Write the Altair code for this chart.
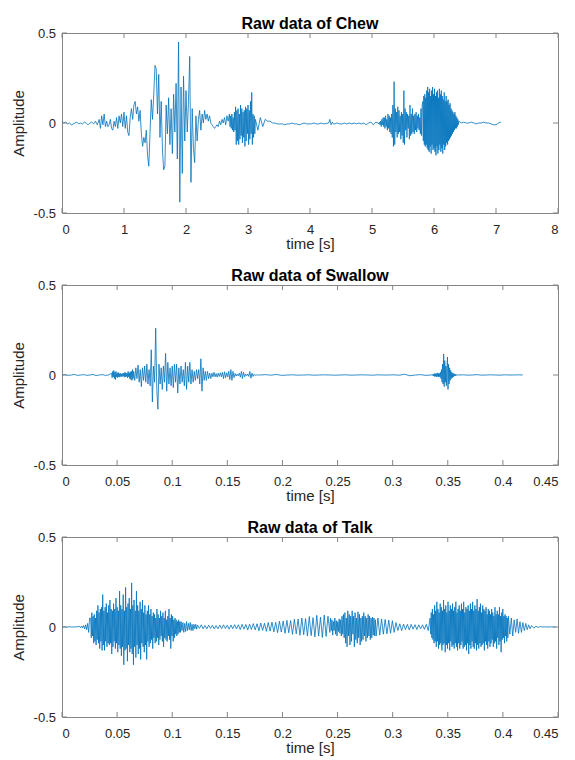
import numpy as np
import pandas as pd
import altair as alt

# ---------------- data ----------------
# Each segment: (start time, end time, amplitudes sampled evenly in between)

CHEW_A = [0.01, 0.0, 0.005, -0.005, 0.0, -0.01, -0.005, 0.0, 0.005, -0.005, 0.0, -0.005,
          0.005, 0.0, -0.01, 0.0, 0.005, -0.005, 0.01, -0.01]
CHEW_B = [0.02, -0.03, 0.04, -0.01, 0.05, -0.02, 0.01, -0.02, -0.01, 0.02, -0.03, -0.04,
          0.01, -0.02, 0.03, -0.03, 0.04, 0.0, 0.05, -0.02]
CHEW_C = [0.06, -0.03, 0.04, -0.05, -0.07, 0.03, 0.08, 0.02, 0.10, 0.12, 0.05, 0.09, 0.01, 0.07,
          -0.06, -0.13, -0.08, -0.11, -0.04, -0.18, -0.24, -0.05, 0.13, 0.02, 0.16, 0.32, 0.30,
          0.05, 0.27, -0.08, 0.12, -0.15, -0.26, -0.24, 0.10, -0.06, 0.14, -0.12, 0.08, -0.17,
          0.16, -0.05, 0.22, -0.20, 0.45, -0.44, 0.20, -0.28, 0.26, -0.10, 0.18, -0.05, 0.12,
          0.37, -0.33, 0.08, -0.14, -0.22, 0.04, -0.10, 0.02, 0.07, -0.04, 0.05, 0.00, 0.07,
          0.02, 0.05, 0.01, 0.04, 0.00, -0.01, -0.02, -0.03, -0.02, -0.01, -0.02, 0.01, -0.01,
          0.02, 0.00, 0.03, -0.01, 0.04, 0.01]
CHEW_D = [0.05, -0.02, 0.04, -0.03, 0.05, -0.04, 0.03, -0.05, 0.06, -0.04, 0.09, -0.12, 0.07,
          -0.10, 0.08, -0.12, 0.05, -0.09, 0.10, -0.07, 0.08, -0.11, 0.06, -0.08, 0.07, -0.13,
          0.09, -0.10, 0.08, -0.06, 0.10, -0.12, 0.07, -0.09, 0.12, -0.06, 0.17, -0.12, 0.05,
          -0.08, 0.04, -0.06]
CHEW_E = [0.02, -0.04, 0.03, -0.02, 0.02, 0.01, 0.01, 0.0, 0.0, -0.005, -0.005, -0.005, -0.01,
          -0.005, -0.005, 0.0, -0.005, -0.005, -0.01, -0.005, 0.0, -0.005, -0.005, -0.005, 0.0,
          -0.005, -0.005, 0.0, -0.005, -0.003]
CHEW_F = [0.0, 0.02, -0.01, 0.005, -0.005]
CHEW_G = [-0.005, 0.0, -0.005, -0.005, 0.0, -0.005, 0.0, -0.005, 0.0, -0.005, 0.0, -0.005, 0.0,
          -0.01, 0.0, 0.005, -0.01, 0.005]
CHEW_H = [0.0, -0.005, 0.005, -0.01, 0.01, -0.02, 0.02, -0.01, 0.03,
          -0.02, 0.03, -0.03, 0.04, -0.02, 0.02, -0.04, 0.05, -0.03, 0.04, -0.05, 0.03,
          -0.06, 0.05, -0.08, 0.10, -0.13, 0.23, -0.12, 0.08, -0.05, 0.06,
          -0.08, 0.09, -0.06, 0.07, -0.05, 0.04, -0.09, 0.06, -0.07, 0.05,
          -0.11, 0.18, -0.12, 0.08, -0.04, 0.06, -0.08, 0.05, -0.03, 0.04,
          -0.09, 0.10, -0.07, 0.05, -0.06, 0.08, -0.05, 0.04, -0.06, 0.05,
          -0.04, 0.06, -0.05, 0.04, -0.03, 0.05, -0.04, 0.03, -0.06, 0.08, -0.07, 0.10]
CHEW_I = [0.12, -0.10, 0.15, -0.12, 0.16, -0.13, 0.14, -0.12, 0.18, -0.14,
          0.20, -0.15, 0.17, -0.16, 0.19, -0.13, 0.15, -0.17, 0.18, -0.12, 0.20, -0.15, 0.16, -0.14,
          0.19, -0.16, 0.15, -0.18, 0.17, -0.13, 0.18, -0.17, 0.14, -0.15, 0.19, -0.12, 0.16, -0.16,
          0.18, -0.14, 0.15, -0.17, 0.13, -0.12, 0.17, -0.15, 0.12, -0.13, 0.15, -0.11, 0.12, -0.12,
          0.13, -0.10, 0.10, -0.09, 0.11, -0.08, 0.08, -0.07, 0.07, -0.06, 0.06, -0.05,
          0.05, -0.04, 0.06, -0.03, 0.04, -0.03, 0.03, -0.02, 0.02, -0.01]
CHEW_J = [0.01, 0.0, 0.005, 0.0, 0.0, 0.005, 0.0, -0.005, 0.0, 0.0, 0.005, 0.0, 0.0, -0.005,
          -0.01, -0.01, 0.0, 0.005]
CHEW_SEGMENTS = [(0.00, 0.60, CHEW_A), (0.60, 1.00, CHEW_B), (1.00, 2.70, CHEW_C),
                 (2.70, 3.12, CHEW_D), (3.12, 4.30, CHEW_E), (4.30, 4.40, CHEW_F),
                 (4.40, 5.10, CHEW_G), (5.10, 5.82, CHEW_H), (5.82, 6.40, CHEW_I),
                 (6.40, 7.08, CHEW_J)]

SWAL_A = [0.0, 0.002, -0.002, 0.0, 0.003, -0.002, 0.0, 0.002, -0.002, 0.0, 0.003, -0.003, 0.0,
          0.002, -0.002, 0.0]
SWAL_B = [0.01, -0.015, 0.02, -0.01, 0.025, -0.02, 0.015, -0.025, 0.02, -0.01, 0.01, -0.015,
          0.015, -0.01, 0.008, -0.012, 0.01, -0.008, 0.006, -0.01, 0.008, -0.005, 0.01, -0.012,
          0.015, -0.01, 0.012, -0.008, 0.01, -0.015, 0.02, -0.01, 0.012, -0.02, 0.018, -0.025,
          0.02, -0.03, 0.03, -0.02]
SWAL_C = [0.02, -0.03, 0.04, -0.02, 0.055, -0.04, 0.03, -0.065, 0.04, -0.03,
          0.05, -0.04, 0.06, -0.05, 0.03, -0.06, 0.14, -0.15, 0.05, -0.04,
          0.26, -0.08, -0.19, 0.06, -0.05, 0.04, -0.08, 0.05, -0.04, 0.12,
          -0.09, 0.07, -0.05, 0.04, -0.06, 0.05, -0.07, 0.06, -0.04, 0.06,
          -0.10, 0.04, -0.05, 0.05, -0.04, 0.03, -0.06, 0.07, -0.08, 0.05,
          -0.04, 0.07, -0.05, 0.03, -0.04, 0.02, -0.03, 0.03, -0.02, 0.03,
          -0.05, 0.09, -0.09, 0.04, -0.03, 0.02, -0.03, 0.02, -0.02, 0.01, -0.02]
SWAL_D = [0.01, -0.01, 0.015, -0.01, 0.008, -0.012, 0.01, -0.008, 0.012, -0.01,
          0.015, -0.02, 0.018, -0.015, 0.012, -0.01, 0.02, -0.025, 0.03, -0.03,
          0.02, -0.015, 0.008, -0.006, 0.005, -0.005, 0.01, -0.012, 0.02, -0.02,
          0.015, -0.01, 0.005, -0.004, 0.006, -0.008, 0.02, -0.018, 0.01, -0.008,
          0.004, -0.003, 0.002, -0.002, 0.001, 0.0]
SWAL_E = [0.0, 0.002, -0.001, 0.003, -0.002, 0.0, 0.001, -0.001, 0.0, 0.001, -0.001, 0.0, 0.001,
          0.0, -0.001, 0.0, 0.001, -0.001, 0.0, 0.001, 0.0, -0.001, 0.001, 0.0, 0.0, 0.001,
          -0.001, 0.004, -0.004, 0.0, 0.002, -0.002]
SWAL_F = [0.0, 0.002, -0.002, 0.004, -0.005, 0.006, -0.008, 0.01, -0.008, 0.006,
          -0.01, 0.012, -0.008, 0.01, -0.012, 0.008, -0.01, 0.015, -0.02, 0.03,
          -0.04, 0.06, -0.05, 0.117, -0.065, 0.08, -0.04, 0.05, -0.06, 0.04,
          0.10, -0.08, 0.06, -0.05, 0.04, -0.03, 0.025, -0.02, 0.015, -0.015,
          0.01, -0.01, 0.008, -0.006, 0.005, -0.004, 0.003, -0.002, 0.002, -0.001, 0.0]
SWAL_G = [0.0, 0.001, -0.001, 0.0, 0.002, -0.001, 0.0, 0.001, 0.0, -0.001, 0.001, 0.0, 0.0,
          0.001, 0.0]
SWAL_SEGMENTS = [(0.0, 0.045, SWAL_A), (0.045, 0.065, SWAL_B), (0.065, 0.136, SWAL_C),
                 (0.136, 0.18, SWAL_D), (0.18, 0.335, SWAL_E), (0.335, 0.36, SWAL_F),
                 (0.36, 0.418, SWAL_G)]

TALK_A = [0.0, 0.001, -0.001, 0.0, 0.002, -0.001, 0.001, 0.0, 0.002]
TALK_B = [0.003, -0.004, 0.006, -0.005, 0.008, -0.01, 0.012, -0.015, 0.02, -0.03, 0.05]
TALK_C = [0.05, -0.06, 0.08, -0.05, 0.06, -0.09, 0.07, -0.08, 0.05, -0.10,
          0.09, -0.07, 0.12, -0.09, 0.08, -0.12, 0.10, -0.08, 0.11, -0.13,
          0.18, -0.10, 0.09, -0.13, 0.11, -0.08, 0.13, -0.11, 0.08, -0.09,
          0.12, -0.10, 0.15, -0.09, 0.10, -0.15, 0.09, -0.11, 0.13, -0.08,
          0.10, -0.12, 0.16, -0.09, 0.11, -0.14, 0.09, -0.10, 0.20, -0.12,
          0.12, -0.16, 0.10, -0.11, 0.18, -0.21, 0.09, -0.13, 0.22, -0.12,
          0.11, -0.19, 0.13, -0.10, 0.16, -0.14, 0.10, -0.12, 0.245, -0.15,
          0.12, -0.21, 0.15, -0.11, 0.09, -0.17, 0.20, -0.10, 0.12, -0.15,
          0.09, -0.12, 0.14, -0.18, 0.10, -0.09, 0.15, -0.11, 0.08, -0.14,
          0.12, -0.10, 0.07, -0.18, 0.09, -0.08, 0.12, -0.11, 0.07, -0.09,
          0.10, -0.07, 0.06, -0.12, 0.08, -0.06, 0.07, -0.09, 0.05, -0.08,
          0.10, -0.06, 0.07, -0.10, 0.05, -0.07, 0.09, -0.05, 0.06, -0.08,
          0.08, -0.11, 0.05, -0.06, 0.09, -0.07, 0.04, -0.08, 0.06, -0.05,
          0.10, -0.07, 0.05, -0.12, 0.07, -0.05, 0.06, -0.08, 0.04, -0.06,
          0.05, -0.04, 0.04, -0.05, 0.03, -0.04, 0.04, -0.03, 0.03, -0.03]
TALK_D = [0.03, -0.02, 0.025, -0.03, 0.02, -0.025, 0.03, -0.02, 0.02, -0.015, 0.025, -0.02,
          0.015, -0.02, 0.015, -0.01, 0.015, -0.012]
TALK_E = [0.01, -0.008, 0.012, -0.01, 0.008, -0.01, 0.01, -0.008, 0.009, -0.011, 0.008, -0.01,
          0.01, -0.009, 0.012, -0.008, 0.01, -0.012, 0.011, -0.01, 0.013, -0.011]
TALK_F = [0.012, -0.014, 0.015, -0.012, 0.014, -0.017, 0.016, -0.014, 0.019, -0.016, 0.018,
          -0.021, 0.022, -0.019, 0.021, -0.024, 0.025, -0.022, 0.027, -0.027, 0.026, -0.031,
          0.032, -0.028, 0.033, -0.035, 0.037, -0.032, 0.036, -0.041, 0.043, -0.038, 0.044,
          -0.046, 0.05, -0.043, 0.047, -0.05, 0.058, -0.048, 0.052, -0.055, 0.065, -0.05, 0.055,
          -0.058, 0.066, -0.052, 0.06]
TALK_G = [-0.03, 0.05, -0.02, 0.04, -0.045, 0.03, -0.02, 0.05, -0.04, 0.035, -0.05, 0.03,
          -0.025, 0.045, -0.035, 0.04, -0.05, 0.06, -0.04, 0.07]
TALK_H = [-0.06, 0.08, -0.09, 0.05, -0.11, 0.09, -0.05, 0.07, -0.10, 0.06, -0.08, 0.09, -0.04,
          0.06, -0.11, 0.08, -0.07, 0.05, -0.09, 0.085, -0.06, 0.07, -0.10, 0.05, -0.08, 0.06,
          -0.07, 0.08, -0.05, 0.06, -0.08, 0.05, -0.06, 0.07, -0.05, 0.06, -0.07, 0.05, -0.06,
          0.055, -0.045, 0.05, -0.05, 0.04]
TALK_I = [-0.05, 0.05, -0.045, 0.045, -0.04, 0.042, -0.038, 0.038, -0.035, 0.035, -0.03]
TALK_J = [0.025, -0.02, 0.018, -0.02, 0.016, -0.015, 0.015, -0.016, 0.014, -0.012, 0.013,
          -0.014, 0.012, -0.01, 0.012, -0.013, 0.015, -0.02]
TALK_K = [0.05, -0.04, 0.08, -0.06, 0.10, -0.07, 0.07, -0.09, 0.12, -0.08,
          0.09, -0.11, 0.14, -0.08, 0.10, -0.12, 0.08, -0.10, 0.13, -0.09,
          0.11, -0.13, 0.09, -0.10, 0.15, -0.09, 0.10, -0.14, 0.12, -0.10,
          0.08, -0.12, 0.14, -0.09, 0.09, -0.13, 0.12, -0.08, 0.10, -0.11,
          0.13, -0.10, 0.09, -0.12, 0.11, -0.09, 0.14, -0.11, 0.08, -0.13,
          0.10, -0.09, 0.12, -0.12, 0.09, -0.10, 0.13, -0.08, 0.10, -0.12,
          0.14, -0.11, 0.08, -0.10, 0.11, -0.13, 0.10, -0.09, 0.12, -0.15,
          0.09, -0.10, 0.13, -0.12, 0.10, -0.08, 0.14, -0.11, 0.09, -0.12,
          0.12, -0.09, 0.10, -0.13, 0.155, -0.10, 0.09, -0.12, 0.11, -0.09,
          0.13, -0.11, 0.08, -0.10, 0.12, -0.09, 0.10, -0.13, 0.09, -0.08,
          0.11, -0.10, 0.07, -0.12, 0.10, -0.08, 0.09, -0.11, 0.07, -0.09,
          0.10, -0.07, 0.08, -0.11, 0.06, -0.09, 0.11, -0.08, 0.07, -0.12,
          0.09, -0.06, 0.07, -0.10, 0.11, -0.08, 0.06, -0.14, 0.08, -0.07,
          0.10, -0.06, 0.06, -0.09, 0.07, -0.05, 0.06, -0.08, 0.05, -0.06]
TALK_L = [0.06, -0.04, 0.05, -0.05, 0.04, -0.03, 0.045, -0.035, 0.03, -0.03, 0.025, -0.02,
          0.02, -0.015, 0.012, -0.01]
TALK_M = [0.008, -0.006, 0.004, -0.002, 0.002, 0.0, 0.001, 0.0, 0.0, 0.001, 0.0, 0.0]
TALK_SEGMENTS = [(0.0, 0.016, TALK_A), (0.016, 0.026, TALK_B), (0.026, 0.108, TALK_C),
                 (0.108, 0.123, TALK_D), (0.123, 0.160, TALK_E), (0.160, 0.243, TALK_F),
                 (0.243, 0.256, TALK_G), (0.256, 0.285, TALK_H), (0.285, 0.303, TALK_I),
                 (0.303, 0.334, TALK_J), (0.334, 0.405, TALK_K), (0.405, 0.426, TALK_L),
                 (0.426, 0.448, TALK_M)]

CHEW_XTICKS = [0, 1, 2, 3, 4, 5, 6, 7, 8]
SHORT_XTICKS = [0, 0.05, 0.1, 0.15, 0.2, 0.25, 0.3, 0.35, 0.4, 0.45]
Y_TICKS = [-0.5, 0, 0.5]
TITLES = ["Raw data of Chew", "Raw data of Swallow", "Raw data of Talk"]

# ---------------- build frames ----------------
def build(segments):
    ts, vs = [], []
    for k, (a, b, vals) in enumerate(segments):
        last = k == len(segments) - 1
        ts.extend(np.linspace(a, b, len(vals), endpoint=last))
        vs.extend(vals)
    return pd.DataFrame({"t": ts, "a": vs, "i": range(len(vs))})

W, H = 496, 180
BLUE = "#0072BD"
AX = "#858585"
FONT = "Liberation Sans"
LBL = "replace(datum.label, '\u2212', '-')"


def panel(df, title, xdom, xticks):
    xs = alt.Scale(domain=xdom, nice=False, zero=False)
    ys = alt.Scale(domain=[-0.5, 0.5], nice=False)
    xax = alt.Axis(values=xticks, title="time [s]", format="~g", labelExpr=LBL, grid=False,
                   labelPadding=10, titleY=30.5, titleBaseline="middle")
    yax = alt.Axis(values=Y_TICKS, title="Amplitude", format="~g", labelExpr=LBL, grid=False,
                   labelPadding=6.5, titleX=-44, titleY=H / 2, titleBaseline="middle")
    line = alt.Chart(df).mark_line(color=BLUE, strokeWidth=0.8, clip=True).encode(
        x=alt.X("t:Q", scale=xs, axis=xax),
        y=alt.Y("a:Q", scale=ys, axis=yax),
        order="i:Q",
    )
    xt = pd.DataFrame({"t": xticks})
    yt = pd.DataFrame({"a": Y_TICKS})
    xb = alt.Chart(xt).mark_rule(color=AX, strokeWidth=1).encode(
        x=alt.X("t:Q", scale=xs, axis=xax), y=alt.value(H), y2=alt.value(H - 5))
    xtop = alt.Chart(xt).mark_rule(color=AX, strokeWidth=1).encode(
        x=alt.X("t:Q", scale=xs, axis=xax), y=alt.value(0), y2=alt.value(5))
    yl = alt.Chart(yt).mark_rule(color=AX, strokeWidth=1).encode(
        y=alt.Y("a:Q", scale=ys, axis=yax), x=alt.value(0), x2=alt.value(5))
    yr = alt.Chart(yt).mark_rule(color=AX, strokeWidth=1).encode(
        y=alt.Y("a:Q", scale=ys, axis=yax), x=alt.value(W), x2=alt.value(W - 5))
    return alt.layer(line, xb, xtop, yl, yr).properties(
        width=W, height=H, title=title)


chart = alt.vconcat(
    panel(build(CHEW_SEGMENTS), TITLES[0], [0, 8], CHEW_XTICKS),
    panel(build(SWAL_SEGMENTS), TITLES[1], [0, 0.45], SHORT_XTICKS),
    panel(build(TALK_SEGMENTS), TITLES[2], [0, 0.45], SHORT_XTICKS),
    spacing=15,
).properties(
    padding={"left": 2, "top": 7, "right": 0, "bottom": 0}
).configure_view(
    stroke=AX, strokeWidth=1
).configure_axis(
    grid=False, domain=False, ticks=False, tickSize=0,
    labelFont=FONT, labelFontSize=13, labelColor="#262626",
    titleFont=FONT, titleFontSize=15, titleFontWeight="normal", titleColor="#262626",
    titlePadding=1,
).configure_title(
    font=FONT, fontSize=16, fontWeight="bold", color="#000000", offset=-4.7, anchor="middle"
)

chart.save("out.html", embed_options={"renderer": "svg", "actions": False})
